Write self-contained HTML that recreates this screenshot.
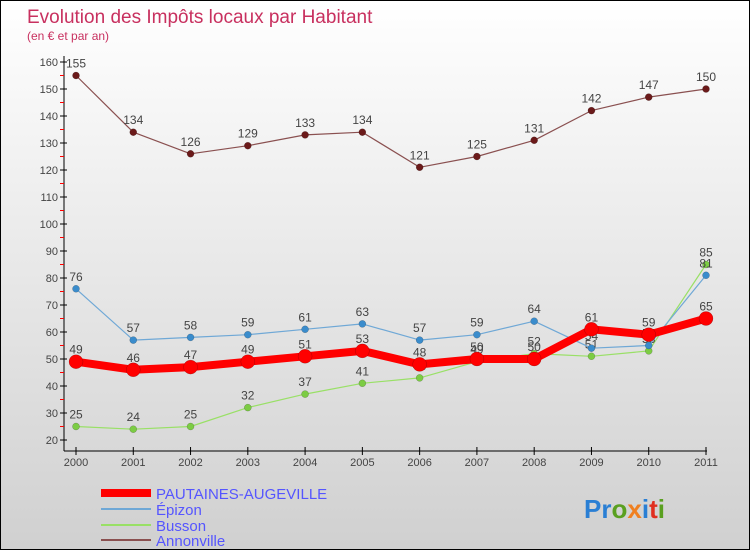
<!DOCTYPE html>
<html><head><meta charset="utf-8"><style>
body{margin:0}
#c{width:750px;height:550px;position:relative;box-sizing:border-box;border:1px solid #000;background:linear-gradient(#fff,#d0d0d0);font-family:"Liberation Sans",sans-serif;overflow:hidden}
</style></head><body>
<div id="c">
<svg id="s" width="750" height="550" style="position:absolute;left:0;top:0">
<text x="26" y="22" font-size="19" fill="#c8305f">Evolution des Impôts locaux par Habitant</text>
<text x="26" y="39" font-size="12" fill="#c8305f">(en € et par an)</text>
<g id="ax"></g><g id="ser"></g>
<g>
<line x1="100" y1="492" x2="150" y2="492" stroke="#f00" stroke-width="8"/>
<text x="155" y="498" font-size="15" fill="#5555ff">PAUTAINES-AUGEVILLE</text>
<line x1="100" y1="508" x2="150" y2="508" stroke="#6fa8d6" stroke-width="2"/>
<text x="155" y="514" font-size="15" fill="#5555ff">Épizon</text>
<line x1="100" y1="524" x2="150" y2="524" stroke="#99e066" stroke-width="2"/>
<text x="155" y="530" font-size="15" fill="#5555ff">Busson</text>
<line x1="100" y1="539" x2="150" y2="539" stroke="#8a5050" stroke-width="2"/>
<text x="155" y="545" font-size="15" fill="#5555ff">Annonville</text>
</g>
<text x="583" y="517" font-size="26" font-weight="bold"><tspan fill="#2a7fd4">Pr</tspan><tspan fill="#5aa020">o</tspan><tspan fill="#f08020">x</tspan><tspan fill="#2a7fd4">i</tspan><tspan fill="#e03020">t</tspan><tspan fill="#5aa020">i</tspan></text>
</svg></div>
<script>
const years=[2000,2001,2002,2003,2004,2005,2006,2007,2008,2009,2010,2011];
const yTicks=[20,30,40,50,60,70,80,90,100,110,120,130,140,150,160];
const pautaines=[49,46,47,49,51,53,48,50,50,61,59,65];
const epizon=[76,57,58,59,61,63,57,59,64,54,55,81];
const busson=[25,24,25,32,37,41,43,49,52,51,53,85];
const annonville=[155,134,126,129,133,134,121,125,131,142,147,150];
const NS="http://www.w3.org/2000/svg";
const xS=i=>75+i*(630/11);
const yS=v=>439-(v-20)*(378/140);
function mk(t,a,p){const e=document.createElementNS(NS,t);for(const k in a)e.setAttribute(k,a[k]);p.appendChild(e);return e;}
const ax=document.getElementById('ax');
const yl=mk('line',{x1:63,y1:55,x2:63,y2:450,stroke:'#000'},ax);


const xl=mk('line',{x1:63,y1:450,x2:706,y2:450,stroke:'#000'},ax);


yTicks.forEach(v=>{
  mk('line',{x1:59,x2:66,y1:yS(v),y2:yS(v),stroke:'#000'},ax);
  if(v<160)mk('line',{x1:59,x2:63,y1:yS(v+5),y2:yS(v+5),stroke:'#f00'},ax);
  const t=mk('text',{x:57,y:yS(v)+4,'font-size':11,'text-anchor':'end',fill:'#444'},ax);
  t.textContent=v;
  
  
});
years.forEach((y,i)=>{
  mk('line',{x1:xS(i),x2:xS(i),y1:446,y2:454,stroke:'#000'},ax);
  const t=mk('text',{x:xS(i),y:465,'font-size':11,'text-anchor':'middle',fill:'#444'},ax);
  t.textContent=y;
  
  
});
const ser=document.getElementById('ser');
function draw(data,name,color,dot,w,r){
  const g=mk('g',{},ser);
  
  
  const pl=mk('polyline',{points:data.map((v,i)=>xS(i)+','+yS(v)).join(' '),fill:'none',stroke:color,'stroke-width':w,'stroke-linejoin':'round'},g);
  
  
  data.forEach((v,i)=>{
    const c=mk('circle',{cx:xS(i),cy:yS(v),r:r,fill:dot,stroke:'rgba(0,0,0,0.3)','stroke-width':0.5},g);
    
    
    const t=mk('text',{x:xS(i),y:yS(v)-8,'font-size':12,'text-anchor':'middle',fill:'#444'},g);
    t.textContent=v;
    
    
  });
}
draw(annonville,'annonville','#8a5050','#6b1a1a',1.2,3.5);
draw(busson,'busson','#99e066','#7ccc44',1.2,3.5);
draw(epizon,'epizon','#6fa8d6','#3a8ccc',1.2,3.5);
draw(pautaines,'pautaines','#f00','#f00',8,7);
</script>
</body></html>
